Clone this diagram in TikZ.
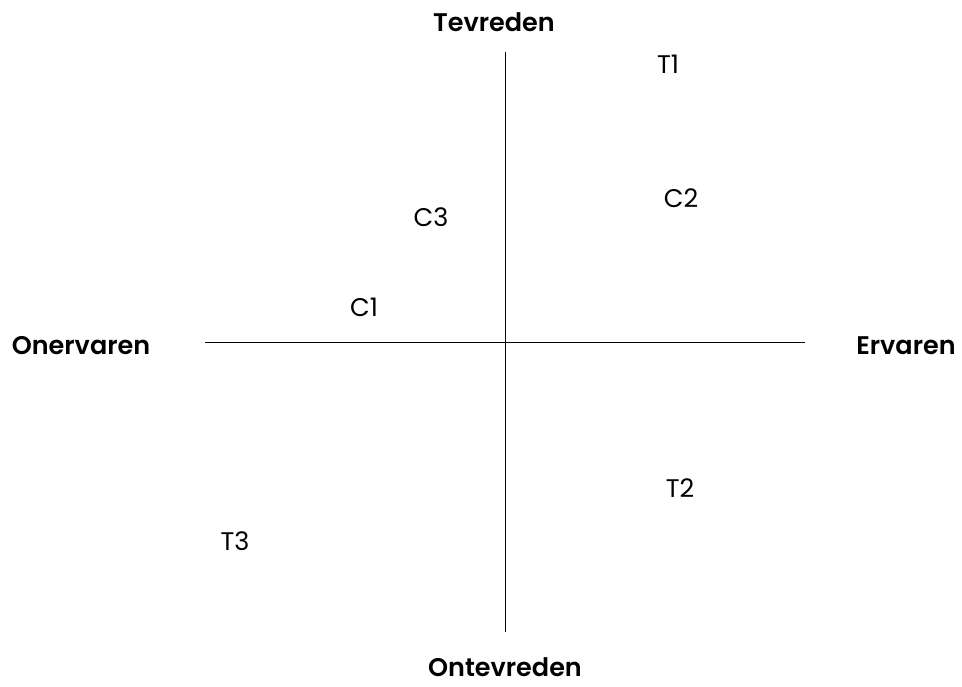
\documentclass[tikz,border=0pt]{standalone}
\usepackage{fontspec}
\setmainfont{Poppins}[BoldFont={Poppins SemiBold}]
\begin{document}
\begin{tikzpicture}[x=1pt,y=-1pt,
  axis/.style={line width=1pt,black},
  lab/.style={font=\fontsize{25.5}{30}\selectfont,inner sep=0pt,anchor=center},
  pole/.style={font=\fontsize{25.5}{30}\selectfont\bfseries,inner sep=0pt,anchor=center}]
\useasboundingbox (0,0) rectangle (962,686);
\coordinate (top) at (505,52);
\coordinate (bot) at (505,632);
\coordinate (left) at (205,342);
\coordinate (right) at (805,342);
\draw[axis] (top) -- (bot);
\draw[axis] (left) -- (right);
\node[pole] (tev) at (494,22) {Tevreden};
\node[pole] (ont) at (505,667) {Ontevreden};
\node[pole] (oner) at (81,346) {Onervaren};
\node[pole] (erv) at (906,346) {Ervaren};
\node[lab] (t1) at (668,64) {T1};
\node[lab] (c2) at (681,198) {C2};
\node[lab] (c3) at (431,217) {C3};
\node[lab] (c1) at (364,307) {C1};
\node[lab] (t2) at (680,488) {T2};
\node[lab] (t3) at (235,541) {T3};
\end{tikzpicture}
\end{document}
